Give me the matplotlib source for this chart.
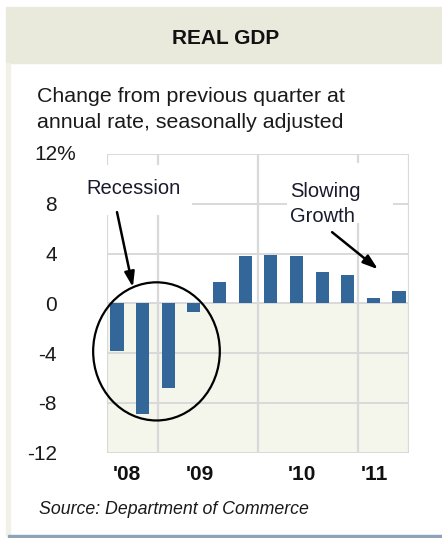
import matplotlib.pyplot as plt
from matplotlib.patches import Ellipse, Rectangle
import numpy as np

plt.rcParams['font.family'] = ['Liberation Sans', 'DejaVu Sans']

# quarterly real GDP change, annual rate (2008 Q3 .. 2011 Q2)
quarters = ['2008Q3', '2008Q4', '2009Q1', '2009Q2', '2009Q3', '2009Q4',
            '2010Q1', '2010Q2', '2010Q3', '2010Q4', '2011Q1', '2011Q2']
gdp_change = [-3.8, -8.9, -6.8, -0.7, 1.7, 3.8, 3.9, 3.8, 2.5, 2.3, 0.4, 1.0]
year_labels = ["'08", "'09", "'10", "'11"]
y_ticks = [-12, -8, -4, 0, 4, 8, 12]

BAR_BLUE = '#336699'
GRID = '#d9d9d9'
LOW_FILL = '#f4f5eb'
HEADER = '#e9eadc'

fig = plt.figure(figsize=(4.42, 5.38), dpi=100)

# --- frame / header ---
fig.patches.append(Rectangle((6 / 442, 1 - 63 / 538), 1 - 6 / 442, 56 / 538,
                             transform=fig.transFigure, color=HEADER, zorder=0))
fig.patches.append(Rectangle((6 / 442, 3 / 538), 4 / 442, 1 - 66 / 538,
                             transform=fig.transFigure, color='#f1f1e8', zorder=0))
fig.patches.append(Rectangle((8 / 442, 0), 1, 3 / 538,
                             transform=fig.transFigure, color='#8ea3ba', zorder=0))

fig.text(226 / 442, 1 - 39 / 538, 'REAL GDP', ha='center', va='center',
         fontsize=15, fontweight='bold', color='#111111')
fig.text(37 / 442, 1 - 97 / 538, 'Change from previous quarter at',
         ha='left', va='center', fontsize=15.4, color='#1a1a1a')
fig.text(37 / 442, 1 - 122 / 538, 'annual rate, seasonally adjusted',
         ha='left', va='center', fontsize=15.4, color='#1a1a1a')
fig.text(39 / 442, 1 - 510 / 538, 'Source: Department of Commerce',
         ha='left', va='center', fontsize=12.8, style='italic', color='#1a1a1a')

# --- chart ---
ax = fig.add_axes([107 / 442, 85.3 / 538, 302 / 442, 298.7 / 538])
x = np.arange(len(quarters))
ax.set_xlim(-0.39, 11.39)
ax.set_ylim(-12, 12)

ax.axhspan(-12, 0, color=LOW_FILL, zorder=0, lw=0)
for yv in y_ticks:
    ax.axhline(yv, color=GRID, lw=1.4, zorder=1)
for xv in [-0.39, 1.6, 5.5, 9.4, 11.39]:
    ax.axvline(xv, color=GRID, lw=1.6, zorder=1)

ax.bar(x, gdp_change, width=0.51, color=BAR_BLUE, zorder=3)

for s in ax.spines.values():
    s.set_visible(False)

# top label carries a hanging % sign, drawn separately
ax.set_yticks(y_ticks)
ax.set_yticklabels([str(v) for v in y_ticks[:-1]] + [''])
ax.tick_params(axis='y', length=0, pad=36, labelsize=15, labelcolor='#1a1a1a')
fig.text(34 / 442, 1 - 155 / 538, '%d%%' % y_ticks[-1], ha='left', va='center',
         fontsize=15, color='#1a1a1a')

ax.set_xticks([0.39, 3.24, 7.22, 10.06])
ax.set_xticklabels(year_labels, fontweight='bold')
ax.tick_params(axis='x', length=0, pad=9, labelsize=15, labelcolor='#111111')

# annotation boxes hide the grid behind the labels
ax.add_patch(Rectangle((-1.25, 7.1), 4.18, 4.0, color='white', zorder=2,
                       clip_on=False, lw=0))
ax.add_patch(Rectangle((6.63, 6.45), 4.13, 4.8, color='white', zorder=2,
                       clip_on=False, lw=0))

ax.text(0.66, 9.2, 'Recession', ha='center', va='center', fontsize=14.5,
        color='#1a1a2e', zorder=5)
ax.text(6.75, 9.0, 'Slowing', ha='left', va='center', fontsize=14.5,
        color='#1a1a2e', zorder=5)
ax.text(6.75, 7.0, 'Growth', ha='left', va='center', fontsize=14.5,
        color='#1a1a2e', zorder=5)

arrow = dict(arrowstyle='-|>,head_length=0.9,head_width=0.3', color='black',
             lw=1.8, shrinkA=0, shrinkB=0)
ax.annotate('', xy=(0.62, 1.3), xytext=(0.0, 7.33), arrowprops=arrow,
            zorder=6, annotation_clip=False)
ax.annotate('', xy=(10.18, 2.74), xytext=(8.39, 5.72), arrowprops=arrow,
            zorder=6, annotation_clip=False)

ax.add_patch(Ellipse((1.54, -3.86), 4.94, 11.1, fill=False, ec='black',
                     lw=1.6, zorder=6, clip_on=False))

fig.savefig('out.png', dpi=100, facecolor='white')
